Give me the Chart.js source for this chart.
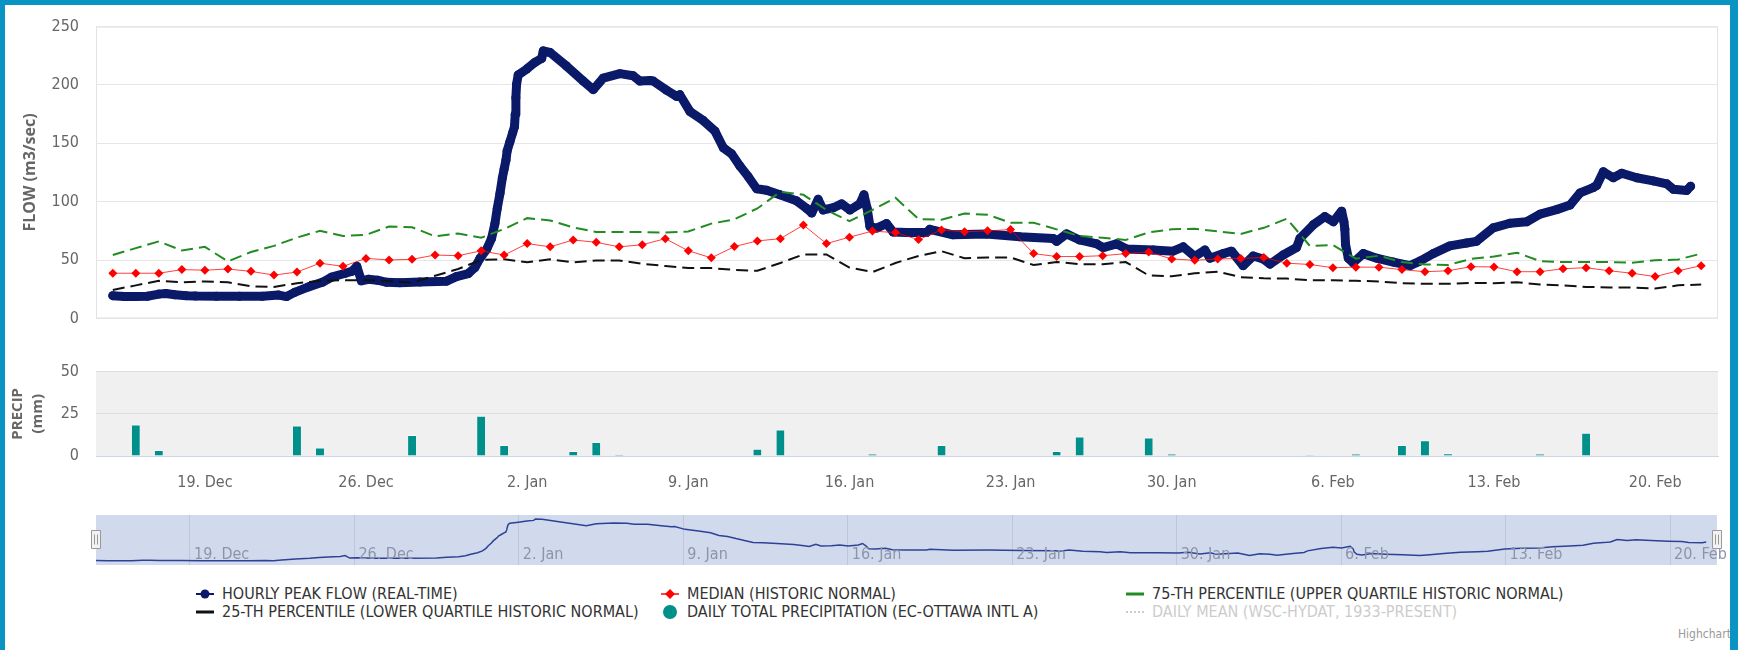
<!DOCTYPE html>
<html>
<head>
<meta charset="utf-8">
<script src="https://cdn.jsdelivr.net/npm/chart.js@4.4.0/dist/chart.umd.min.js"></script>
<style>
html, body { margin: 0; padding: 0; background: #fff; }
#wrap { position: relative; width: 1738px; height: 650px; overflow: hidden; font-family: 'Liberation Sans Narrow', 'DejaVu Sans Condensed', sans-serif; }
#wrap canvas { position: absolute; left: 0; }
#frame { position: absolute; left: 0; top: 0; width: 1738px; height: 650px; box-sizing: border-box; border-top: 5px solid #0a94c4; border-left: 5px solid #0a94c4; border-right: 8px solid #0a94c4; pointer-events: none; z-index: 5; }
.leg { position: absolute; font-size: 16px; line-height: 20px; color: #333; white-space: nowrap; }
#legsym { position: absolute; left: 0; top: 575px; }
#credits { position: absolute; left: 1678px; top: 627px; font-size: 12px; color: #999; }
</style>
</head>
<body>
<div id="wrap">
  <canvas id="flow" width="1738" height="345" style="top:0px"></canvas>
  <canvas id="precip" width="1738" height="145" style="top:345px"></canvas>
  <canvas id="nav" width="1738" height="65" style="top:505px"></canvas>

  <svg id="legsym" width="1738" height="50">
    <line x1="196" y1="19" x2="214" y2="19" stroke="#0a1a68" stroke-width="2"/>
    <circle cx="205" cy="19" r="4.5" fill="#0a1a68"/>
    <line x1="661" y1="19" x2="679" y2="19" stroke="#ff0000" stroke-width="1.5"/>
    <polygon points="670,14 675,19 670,24 665,19" fill="#ff0000"/>
    <line x1="1126" y1="19" x2="1144" y2="19" stroke="#228b22" stroke-width="3"/>
    <line x1="196" y1="37" x2="214" y2="37" stroke="#111" stroke-width="3"/>
    <circle cx="670" cy="37" r="7" fill="#00908b"/>
    <line x1="1126" y1="37" x2="1144" y2="37" stroke="#cccccc" stroke-width="2" stroke-dasharray="2,2"/>
  </svg>
  <div class="leg" style="left:222px;top:584px">HOURLY PEAK FLOW (REAL-TIME)</div>
  <div class="leg" style="left:687px;top:584px">MEDIAN (HISTORIC NORMAL)</div>
  <div class="leg" style="left:1152px;top:584px">75-TH PERCENTILE (UPPER QUARTILE HISTORIC NORMAL)</div>
  <div class="leg" style="left:222px;top:602px">25-TH PERCENTILE (LOWER QUARTILE HISTORIC NORMAL)</div>
  <div class="leg" style="left:687px;top:602px">DAILY TOTAL PRECIPITATION (EC-OTTAWA INTL A)</div>
  <div class="leg" style="left:1152px;top:602px;color:#cccccc">DAILY MEAN (WSC-HYDAT, 1933-PRESENT)</div>
  <div id="credits">Highcharts.com</div>
  <div id="frame"></div>
</div>

<script>
// dia 0 = 15 Dec, un punto por dia hasta 22 Feb
var tickDays = [4, 11, 18, 25, 32, 39, 46, 53, 60, 67];
var tickLabels = ['19. Dec', '26. Dec', '2. Jan', '9. Jan', '16. Jan', '23. Jan', '30. Jan', '6. Feb', '13. Feb', '20. Feb'];

var median = [38.7, 38.7, 38.7, 41.8, 41.3, 42.3, 40.3, 37.1, 39.7, 47.3,
    44.6, 51.4, 50.1, 50.6, 54.3, 53.7, 57.9, 54.3, 64.1, 61.3,
    67.2, 65.2, 61.3, 63.1, 68.3, 57.9, 51.9, 61.5, 66.4, 68.3,
    80.0, 64.1, 69.6, 74.8, 73.5, 67.5, 75.8, 74.2, 75.0, 76.1,
    55.5, 53.0, 53.0, 53.7, 55.5, 56.9, 50.9, 49.8, 50.9, 51.4,
    52.2, 47.3, 46.2, 43.4, 43.9, 43.9, 41.8, 40.0, 40.8, 44.3,
    44.1, 40.0, 40.0, 42.6, 43.4, 40.8, 38.7, 35.8, 40.8, 45.2];

var upper75 = [54.3, 60.2, 66.0, 58.2, 61.3, 48.8, 56.9, 62.1, 69.3, 75.0,
    70.6, 71.6, 78.7, 78.1, 70.3, 72.7, 69.1, 76.6, 85.9, 83.9,
    77.9, 74.0, 74.0, 74.0, 73.5, 74.5, 81.2, 84.9, 94.2, 108.5,
    105.9, 92.9, 83.3, 92.9, 103.3, 85.1, 84.6, 89.8, 88.8, 82.0,
    82.0, 76.3, 70.6, 69.1, 67.2, 73.7, 76.3, 76.9, 74.5, 72.4,
    77.6, 85.4, 62.1, 62.8, 51.2, 53.7, 48.3, 46.2, 45.7, 51.0,
    53.0, 56.3, 49.1, 48.3, 48.3, 48.3, 47.7, 49.8, 50.4, 55.5];

var lower25 = [24.4, 28.3, 32.2, 30.9, 31.7, 30.9, 27.5, 27.0, 30.1, 32.2,
    32.7, 32.7, 31.9, 30.6, 36.6, 42.3, 50.1, 50.6, 48.1, 50.6,
    48.1, 49.6, 49.6, 46.8, 44.9, 43.1, 43.1, 41.5, 40.8, 47.5,
    54.8, 54.8, 43.6, 39.7, 47.5, 53.5, 57.6, 51.6, 52.2, 52.2,
    45.7, 48.3, 46.5, 46.5, 48.3, 36.8, 36.1, 38.7, 40.0, 35.3,
    34.3, 34.1, 32.7, 32.7, 32.2, 31.7, 30.1, 29.6, 29.6, 30.5,
    30.1, 30.9, 29.1, 28.3, 27.0, 26.5, 26.5, 25.7, 28.3, 29.1];

var precip = [0, 18.7, 3.5, 0, 0, 0, 0, 0, 18.1, 5.1,
    0, 0.3, 0.3, 12.4, 0, 0, 23.8, 6.5, 0, 0,
    3.0, 8.3, 0.8, 0, 0, 0, 0, 0, 4.3, 15.7,
    0, 0, 0, 1.4, 0.3, 0, 6.5, 0, 0.3, 0.3,
    0.3, 3.0, 11.6, 0.3, 0.3, 11.0, 1.4, 0.3, 0, 0.3,
    0.3, 0, 0.6, 0.3, 1.4, 0, 6.5, 9.4, 1.6, 0,
    0, 0, 1.4, 0, 13.8, 0, 0, 0, 0, 0];

// lecturas horarias (dia, m3/s)
var flowDay = [0, 0.5, 1.0, 1.5, 2.0, 2.3, 2.7, 3.2, 3.6, 4.5, 5.5, 6.5, 7.2, 7.55, 7.9, 8.5, 9.1, 9.5,
    10.1, 10.4, 10.6, 10.8, 11.1, 11.5, 11.9, 12.47, 13.34, 14.5, 14.93, 15.44, 15.73, 15.95, 16.24,
    16.45, 16.6, 16.7, 16.82, 16.92, 17.0, 17.08, 17.13, 17.25, 17.37, 17.45, 17.48, 17.51, 17.54,
    17.61, 17.98, 18.34, 18.63, 18.7, 18.99, 19.71, 20.44, 20.87, 21.3, 22.03, 22.6, 22.9, 23.33,
    23.48, 24.06, 24.49, 24.63, 25.07, 25.65, 26.16, 26.52, 26.88, 27.24, 27.6, 27.97, 28.4, 28.98,
    29.7, 30.14, 30.36, 30.64, 30.86, 31.3, 31.66, 32.02, 32.45, 32.63, 32.77, 32.89, 33.18, 33.61,
    33.9, 34.48, 35.35, 35.49, 36.5, 37.96, 39.4, 40.85, 41.0, 41.43, 42.0, 42.74, 43.02, 43.6,
    44.04, 45.2, 46.06, 46.5, 47.0, 47.44, 47.66, 48.24, 48.6, 49.1, 49.54, 49.97, 50.27, 50.84,
    51.42, 51.57, 52.15, 52.65, 53.02, 53.38, 53.48, 53.52, 53.55, 53.67, 53.88, 54.32, 54.9, 55.62,
    56.35, 56.78, 57.36, 58.08, 58.81, 59.24, 59.97, 60.69, 61.42, 62.0, 62.72, 63.3, 63.74, 64.31,
    64.46, 64.75, 65.18, 65.55, 66.2, 66.92, 67.5, 67.79, 68.37, 68.54];
var flowVal = [19.5, 18.8, 18.8, 19.0, 20.8, 21.3, 20.2, 19.5, 19.2, 19.0, 19.0, 19.0, 20.0, 18.7, 22.3, 27.0, 30.9, 35.3,
    38.7, 40.5, 44.6, 32.2, 33.5, 32.7, 30.9, 30.6, 31.2, 31.9, 35.8, 38.4, 43.6, 51.4, 59.2,
    68.3, 81.2, 94.2, 107.2, 120.2, 128.0, 135.7, 143.5, 151.3, 159.1, 164.3, 174.7, 189.0, 200.7,
    208.5, 213.6, 219.4, 222.7, 229.2, 227.9, 216.2, 203.3, 196.0, 205.8, 209.7, 207.9, 203.3, 203.8,
    203.3, 195.5, 190.2, 191.6, 177.3, 169.5, 160.4, 146.2, 141.0, 130.6, 121.5, 111.1, 109.8, 105.9,
    100.7, 94.2, 90.3, 102.0, 92.9, 94.8, 98.1, 92.9, 98.1, 105.9, 94.2, 78.7, 77.4, 81.2,
    74.0, 73.5, 73.5, 76.3, 71.6, 72.4, 69.9, 68.5, 66.0, 72.4, 67.2, 63.9, 60.7, 63.9,
    59.4, 58.6, 57.6, 61.3, 53.0, 58.6, 51.6, 55.5, 57.6, 45.2, 53.5, 50.9, 46.5, 54.3,
    60.7, 68.5, 80.2, 87.2, 82.8, 91.9, 82.8, 76.3, 63.3, 51.6, 47.7, 55.5, 51.6, 48.3,
    45.2, 49.1, 55.5, 62.1, 64.6, 66.0, 77.6, 81.5, 82.8, 89.3, 93.2, 97.1, 107.5, 112.1,
    113.9, 125.6, 120.5, 124.4, 120.5, 117.8, 115.3, 110.6, 109.6, 113.2];

var xMin = -0.73;
var xMax = 69.73;
var navy = '#0a1a68';
var teal = '#00908b';
var fuente = "'Liberation Sans Narrow', 'DejaVu Sans Condensed', sans-serif";

Chart.defaults.font.family = fuente;
Chart.defaults.color = '#666';

var flowPts = flowDay.map(function (d, i) { return { x: d, y: flowVal[i] }; });
function dayPts(arr) {
    return arr.map(function (v, i) { return { x: i, y: v }; });
}
function fixTicks(scale) {
    scale.ticks = tickDays.map(function (v) { return { value: v }; });
}
function tickText(v) {
    var i = tickDays.indexOf(v);
    return i < 0 ? '' : tickLabels[i];
}

var plotBg = {
    id: 'plotBg',
    beforeDraw: function (chart, args, opts) {
        var a = chart.chartArea;
        var ctx = chart.ctx;
        ctx.save();
        ctx.fillStyle = opts.color;
        ctx.fillRect(a.left, a.top, a.right - a.left, a.bottom - a.top);
        if (opts.border) {
            ctx.strokeStyle = opts.border;
            ctx.lineWidth = 1;
            ctx.strokeRect(a.left + 0.5, a.top + 0.5, a.right - a.left - 1, a.bottom - a.top - 1);
        }
        ctx.restore();
    }
};

// etiquetas del navegador, dentro del area
var navLabels = {
    id: 'navLabels',
    afterDraw: function (chart) {
        var sx = chart.scales.x;
        var a = chart.chartArea;
        var ctx = chart.ctx;
        ctx.save();
        ctx.font = '16px ' + fuente;
        ctx.fillStyle = '#8d94aa';
        ctx.textBaseline = 'middle';
        ctx.textAlign = 'left';
        tickDays.forEach(function (d, i) {
            ctx.fillText(tickLabels[i], sx.getPixelForValue(d) + 4, a.bottom - 10);
        });
        ctx.restore();
    }
};

var handles = {
    id: 'handles',
    afterDraw: function (chart) {
        var a = chart.chartArea;
        var ctx = chart.ctx;
        ctx.save();
        [a.left, a.right].forEach(function (x) {
            x = Math.round(x);
            ctx.fillStyle = '#f2f2f2';
            ctx.strokeStyle = '#999';
            ctx.lineWidth = 1;
            ctx.beginPath();
            ctx.rect(x - 4.5, a.top + 15.5, 9, 18);
            ctx.fill();
            ctx.stroke();
            ctx.beginPath();
            ctx.moveTo(x - 1.5, a.top + 19.5);
            ctx.lineTo(x - 1.5, a.top + 29.5);
            ctx.moveTo(x + 1.5, a.top + 19.5);
            ctx.lineTo(x + 1.5, a.top + 29.5);
            ctx.stroke();
        });
        ctx.restore();
    }
};

var gFlow = new Chart(document.getElementById('flow'), {
    type: 'line',
    data: {
        datasets: [{
            label: 'MEDIAN',
            data: dayPts(median),
            borderColor: 'rgba(255,0,0,0.75)',
            borderWidth: 1,
            pointStyle: 'rectRot',
            pointRadius: 4.5,
            pointBackgroundColor: '#ff0000',
            pointBorderColor: '#ff0000',
            pointBorderWidth: 0,
            order: 0
        }, {
            label: '75-TH',
            data: dayPts(upper75),
            borderColor: '#228b22',
            borderWidth: 2,
            borderDash: [12, 6],
            pointRadius: 0,
            order: 1
        }, {
            label: '25-TH',
            data: dayPts(lower25),
            borderColor: '#111111',
            borderWidth: 2,
            borderDash: [12, 6],
            pointRadius: 0,
            order: 2
        }, {
            label: 'FLOW',
            data: flowPts,
            borderColor: navy,
            borderWidth: 9,
            borderJoinStyle: 'round',
            borderCapStyle: 'round',
            pointRadius: 4.5,
            pointBackgroundColor: navy,
            pointBorderWidth: 0,
            order: 3
        }]
    },
    options: {
        responsive: false,
        animation: false,
        events: [],
        layout: { autoPadding: false, padding: { top: 17, right: 20, bottom: 7, left: 0 } },
        plugins: {
            legend: { display: false },
            tooltip: { enabled: false },
            plotBg: { color: '#ffffff', border: '#e3e3e3' }
        },
        scales: {
            x: { type: 'linear', min: xMin, max: xMax, display: false },
            y: {
                min: 0,
                max: 250,
                afterFit: function (s) { s.width = 96; },
                ticks: { stepSize: 50, padding: 17, font: { size: 16 }, color: '#666' },
                grid: { color: '#e6e6e6', drawTicks: false },
                border: { display: false },
                title: {
                    display: true,
                    text: 'FLOW (m3/sec)',
                    color: '#666',
                    font: { family: "'Open Sans', sans-serif", size: 16, weight: 'bold' },
                    padding: { top: 21, bottom: 0 }
                }
            }
        }
    },
    plugins: [plotBg]
});

var gPrecip = new Chart(document.getElementById('precip'), {
    type: 'bar',
    data: {
        datasets: [{
            label: 'PRECIP',
            data: dayPts(precip),
            backgroundColor: teal,
            borderColor: 'rgba(255,255,255,0.8)',
            borderWidth: function (c) {
                return c.raw && c.raw.y > 0 ? { top: 1, left: 0, right: 0, bottom: 0 } : 0;
            },
            borderSkipped: 'start',
            inflateAmount: 0,
            barThickness: 8
        }]
    },
    options: {
        responsive: false,
        animation: false,
        events: [],
        layout: { autoPadding: false, padding: { top: 22, right: 20, bottom: 0, left: 0 } },
        plugins: {
            legend: { display: false },
            tooltip: { enabled: false },
            plotBg: { color: '#f0f0f0' }
        },
        scales: {
            x: {
                type: 'linear',
                min: xMin,
                max: xMax,
                offset: false,
                afterBuildTicks: fixTicks,
                afterFit: function (s) { s.height = 34; },
                ticks: { autoSkip: false, maxRotation: 0, padding: 9, callback: tickText, font: { size: 16 }, color: '#666' },
                grid: { display: false, offset: false },
                border: { display: true, color: '#ccd6eb' }
            },
            y: {
                min: 0,
                max: 50,
                afterFit: function (s) { s.width = 96; },
                ticks: { stepSize: 25, padding: 17, font: { size: 16 }, color: '#666' },
                grid: { color: '#dddddd', drawTicks: false },
                border: { display: false },
                title: {
                    display: true,
                    text: ['PRECIP', '(mm)'],
                    color: '#666',
                    font: { family: "'Open Sans', sans-serif", size: 15, weight: 'bold', lineHeight: 1.33 },
                    padding: { top: 8, bottom: 0 }
                }
            }
        }
    },
    plugins: [plotBg]
});

var gNav = new Chart(document.getElementById('nav'), {
    type: 'line',
    data: {
        datasets: [{
            data: flowPts,
            borderColor: '#2f4196',
            borderWidth: 1.5,
            pointRadius: 0
        }]
    },
    options: {
        responsive: false,
        animation: false,
        events: [],
        layout: { autoPadding: false, padding: { top: 10, right: 21, bottom: 5, left: 96 } },
        plugins: {
            legend: { display: false },
            tooltip: { enabled: false },
            plotBg: { color: '#d1daed' }
        },
        scales: {
            x: {
                type: 'linear',
                min: 0,
                max: 69,
                afterBuildTicks: fixTicks,
                afterFit: function (s) { s.height = 0; },
                ticks: { display: false },
                grid: { color: 'rgba(60,70,110,0.13)', drawTicks: false },
                border: { display: false }
            },
            y: { display: false, min: -3, max: 250 }
        }
    },
    plugins: [plotBg, navLabels, handles]
});
</script>
</body>
</html>
